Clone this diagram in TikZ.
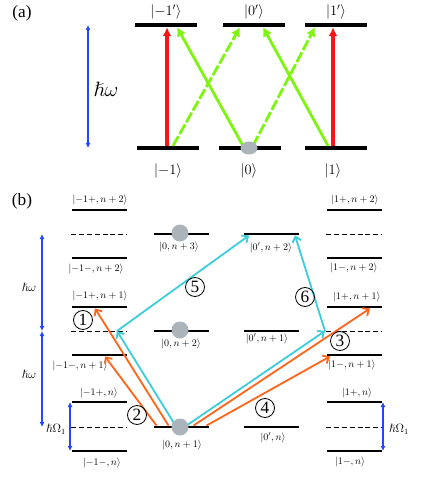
\documentclass[tikz,border=0pt]{standalone}
\usepackage{fontspec}
\setmainfont{Liberation Serif}
\usepackage{amsmath}
\usepackage{amssymb}
\usetikzlibrary{arrows.meta,positioning,shapes.geometric}

\definecolor{redarrow}{RGB}{255,20,20}
\definecolor{greenarrow}{RGB}{125,245,15}
\definecolor{orangearrow}{RGB}{255,100,25}
\definecolor{cyanarrow}{RGB}{60,205,220}
\definecolor{bluearrow}{RGB}{35,70,255}
\definecolor{atomgray}{RGB}{170,180,186}

\begin{document}
\begin{tikzpicture}
	[x=1pt, y=-1pt, inner sep=0pt,
	sta/.style	= {rectangle, fill=black, minimum width=62pt, minimum height=4pt},
	stb/.style	= {rectangle, fill=black, minimum width=55pt, minimum height=2.5pt},
	vir/.style	= {rectangle, draw=none, minimum width=55pt, minimum height=0pt},
	dlev/.style	= {dash pattern=on 5pt off 2.8pt, line width=0.9pt},
	keta/.style	= {font=\Large},
	ketb/.style	= {font=\normalsize},
	atom/.style	= {circle, fill=atomgray, minimum size=17pt},
	redarr/.style	= {-{Latex[length=9pt, width=9pt]}, line width=4.5pt, draw=redarrow},
	grarr/.style	= {-{Latex[length=9pt, width=10pt]}, line width=2.8pt, draw=greenarrow},
	grdash/.style	= {grarr, dash pattern=on 11pt off 2.5pt},
	orarr/.style	= {-{Straight Barb[length=5pt, width=9pt]}, line width=1.8pt, draw=orangearrow},
	cyarr/.style	= {-{Straight Barb[length=5pt, width=9pt]}, line width=1.8pt, draw=cyanarrow},
	enarr/.style	= {{Latex[length=5pt, width=5pt]}-{Latex[length=5pt, width=5pt]}, line width=1.6pt, draw=bluearrow},
	num/.style	= {circle, draw, line width=0.8pt, minimum size=19pt, font=\LARGE}]
	
	\useasboundingbox (0, 0) rectangle (436, 494);
	
	% (a)
	\node at (22, 13)	(la)	{\LARGE (a)};
	
	\node at (166, 25)	[sta]	(Tm1)	{};
	\node at (254, 25)	[sta]	(T0)	{};
	\node at (336, 25)	[sta]	(T1)	{};
	\node at (168, 148)	[sta]	(Bm1)	{};
	\node at (250, 148)	[sta]	(B0)	{};
	\node at (336, 148)	[sta]	(B1)	{};
	
	\node at (166, 12)	[keta]	(kTm1)	{$|{-1'}\rangle$};
	\node at (254, 12)	[keta]	(kT0)	{$|0'\rangle$};
	\node at (336, 12)	[keta]	(kT1)	{$|1'\rangle$};
	\node at (168, 171)	[keta]	(kBm1)	{$|{-1}\rangle$};
	\node at (249, 171)	[keta]	(kB0)	{$|0\rangle$};
	\node at (333, 171)	[keta]	(kB1)	{$|1\rangle$};
	
	\coordinate (hwa) at (88, 0);
	\draw [enarr] (hwa |- Tm1) -- (hwa |- Bm1);
	\node at (106, 89)	(hw)	{\huge$\hslash\omega$};
	
	\draw [redarr] ([xshift=-1pt]Bm1.north) -- ([xshift=1pt]Tm1.south);
	\draw [redarr] ([xshift=-3pt]B1.north) -- ([xshift=-3pt]T1.south);
	\draw [grdash] ([xshift=5pt]Bm1.north) -- ([xshift=-14pt]T0.south);
	\draw [grarr] ([xshift=-7pt]B0.north) -- ([xshift=11pt]Tm1.south);
	\draw [grdash] ([xshift=3pt]B0.north) -- ([xshift=-21pt]T1.south);
	\draw [grarr] ([xshift=-8pt]B1.north) -- ([xshift=9pt]T0.south);
	
	\node at (249, 148)	[atom, ellipse, minimum width=17pt, minimum height=13pt]	(a0)	{};
	
	% (b)
	\node at (22, 201)	(lb)	{\LARGE (b)};
	
	\node at (99, 210)	[stb]	(Lp2)	{};
	\node at (99, 234)	[vir]	(Ld2)	{};
	\node at (99, 258)	[stb]	(Lm2)	{};
	\node at (99, 307)	[stb]	(Lp1)	{};
	\node at (99, 331)	[vir]	(Ld1)	{};
	\node at (99, 355)	[stb]	(Lm1)	{};
	\node at (99, 402)	[stb]	(Lp0)	{};
	\node at (99, 427)	[vir]	(Ld0)	{};
	\node at (99, 451)	[stb]	(Lm0)	{};
	
	\node at (181.5, 234)	[stb]	(C3)	{};
	\node at (181.5, 331)	[stb]	(C2)	{};
	\node at (181.5, 427)	[stb]	(C1)	{};
	
	\node at (271, 234)	[stb]	(D2)	{};
	\node at (271, 331)	[stb]	(D1)	{};
	\node at (271, 427)	[stb]	(D0)	{};
	
	\node at (354, 210)	[stb]	(Rp2)	{};
	\node at (354, 234)	[vir]	(Rd2)	{};
	\node at (354, 258)	[stb]	(Rm2)	{};
	\node at (354, 307)	[stb]	(Rp1)	{};
	\node at (354, 331)	[vir]	(Rd1)	{};
	\node at (354, 355)	[stb]	(Rm1)	{};
	\node at (354, 402)	[stb]	(Rp0)	{};
	\node at (354, 427)	[vir]	(Rd0)	{};
	\node at (354, 451)	[stb]	(Rm0)	{};
	
	\foreach \v in {Ld2, Ld1, Ld0, Rd2, Rd1, Rd0}
		\draw [dlev] (\v.west) -- (\v.east);
	
	\node at (100, 200)	[ketb]	(kLp2)	{$|{-1}{+},n+2\rangle$};
	\node at (96, 269)	[ketb]	(kLm2)	{$|{-1}{-},n+2\rangle$};
	\node at (100, 296)	[ketb]	(kLp1)	{$|{-1}{+},n+1\rangle$};
	\node at (80, 366)	[ketb]	(kLm1)	{$|{-1}{-},n+1\rangle$};
	\node at (99, 393)	[ketb]	(kLp0)	{$|{-1}{+},n\rangle$};
	\node at (102, 463)	[ketb]	(kLm0)	{$|{-1}{-},n\rangle$};
	
	\node at (179, 247)	[ketb]	(kC3)	{$|0,n+3\rangle$};
	\node at (181, 344)	[ketb]	(kC2)	{$|0,n+2\rangle$};
	\node at (182, 445)	[ketb]	(kC1)	{$|0,n+1\rangle$};
	
	\node at (271, 248)	[ketb]	(kD2)	{$|0',n+2\rangle$};
	\node at (267, 339)	[ketb]	(kD1)	{$|0',n+1\rangle$};
	\node at (273, 438)	[ketb]	(kD0)	{$|0',n\rangle$};
	
	\node at (355, 200)	[ketb]	(kRp2)	{$|1{+},n+2\rangle$};
	\node at (354, 268)	[ketb]	(kRm2)	{$|1{-},n+2\rangle$};
	\node at (357, 297)	[ketb]	(kRp1)	{$|1{+},n+1\rangle$};
	\node at (352, 365)	[ketb]	(kRm1)	{$|1{-},n+1\rangle$};
	\node at (357, 393)	[ketb]	(kRp0)	{$|1{+},n\rangle$};
	\node at (350, 462)	[ketb]	(kRm0)	{$|1{-},n\rangle$};
	
	\coordinate (hwb) at (42, 0);
	\draw [enarr] (hwb |- Ld2) -- (hwb |- Ld1);
	\draw [enarr] (hwb |- Ld1) -- (hwb |- Ld0);
	\node at (29, 287)	(hw1)	{\large$\hslash\omega$};
	\node at (29, 374)	(hw0)	{\large$\hslash\omega$};
	
	\coordinate (hol) at (70, 0);
	\draw [enarr] (hol |- Lp0) -- (hol |- Lm0);
	\node at (56, 429)	(hOl)	{\large$\hslash\Omega_1$};
	\coordinate (hor) at (383, 0);
	\draw [enarr] (hor |- Rp0) -- (hor |- Rm0);
	\node at (399, 429)	(hOr)	{\large$\hslash\Omega_1$};
	
	\coordinate (vl) at ([xshift=18pt]Ld1.center);
	\coordinate (vr) at ([xshift=-29pt]Rd1.center);
	
	\draw [orarr] ([xshift=-13pt]C1.north) -- ([xshift=-4pt]Lp1.south);
	\draw [orarr] ([xshift=-25pt]C1.north) -- ([xshift=6pt]Lm1.south);
	\draw [cyarr] ([xshift=-6pt]C1.north) -- (vl);
	\draw [cyarr] (vl) -- ([xshift=-22pt]D2.south);
	\draw [cyarr] ([xshift=5pt]C1.north) -- (vr);
	\draw [cyarr] (vr) -- ([xshift=24pt]D2.south);
	\draw [orarr] ([xshift=12pt]C1.north) -- ([xshift=16pt]Rp1.south);
	\draw [orarr] ([xshift=25pt]C1.north) -- ([xshift=-24pt]Rm1.south);
	
	\node at (180, 233)	[atom]	(a3)	{};
	\node at (180, 330)	[atom]	(a2)	{};
	\node at (180, 427)	[atom]	(a1)	{};
	
	\node at (83, 320)	[num]	(n1)	{1};
	\node at (137, 415)	[num]	(n2)	{2};
	\node at (340, 341)	[num]	(n3)	{3};
	\node at (265, 408)	[num]	(n4)	{4};
	\node at (195, 287)	[num]	(n5)	{5};
	\node at (305, 297)	[num]	(n6)	{6};
\end{tikzpicture}
\end{document}
